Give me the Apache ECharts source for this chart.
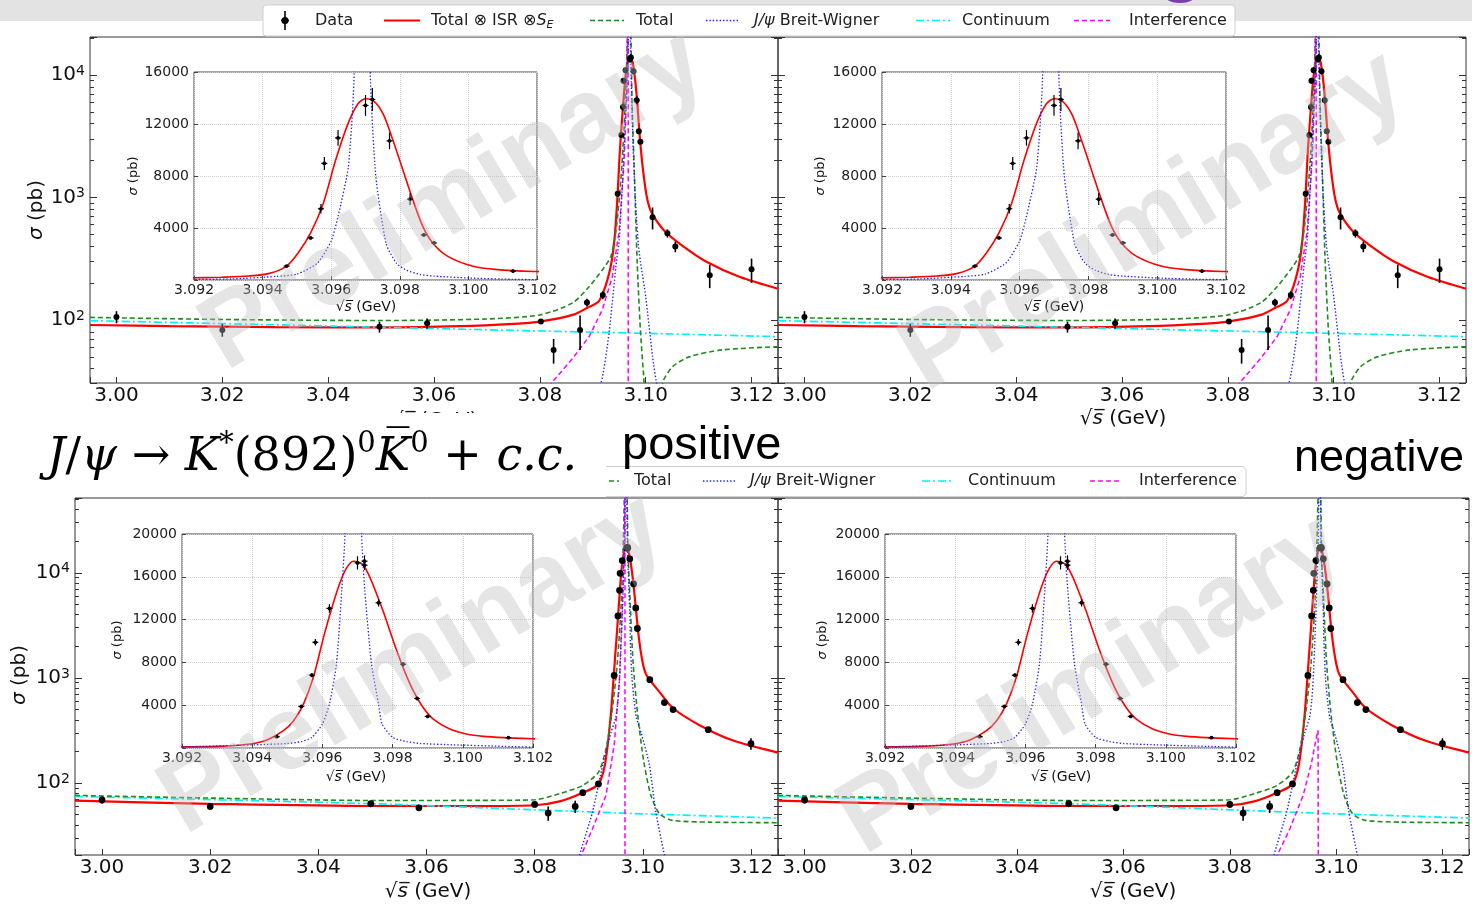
<!DOCTYPE html>
<html><head><meta charset="utf-8">
<script src="https://cdn.jsdelivr.net/npm/echarts@6/dist/echarts.min.js"></script>
<style>html,body{margin:0;padding:0;background:#fff}#c{width:1472px;height:908px}</style>
</head><body><div id="c"></div><script>
// ---------------- DATA ----------------
// upper panels: measured cross sections (pb), errors
const topX   = [3.000, 3.020, 3.0497, 3.0587, 3.0802, 3.0826, 3.0876, 3.0889, 3.0919, 3.0947, 3.0954, 3.0957, 3.0958, 3.0962, 3.0970, 3.0972, 3.0977, 3.0983, 3.0987, 3.0990, 3.1013, 3.1041, 3.1056, 3.1121, 3.1200];
const topY   = [106, 83, 88, 94, 97, 57, 83, 139, 160, 1070, 3236, 5478, 8969, 10931, 13428, 13887, 10702, 6217, 3465, 2854, 688, 510, 397, 232, 259];
const topErr = [12, 10, 9, 9, 4, 13, 26, 10, 12, 60, 100, 360, 500, 600, 800, 890, 640, 450, 120, 110, 140, 40, 40, 50, 58];
// lower panels (K*(892)0 K0bar + c.c.)
const botX   = [3.000, 3.020, 3.0497, 3.0586, 3.0800, 3.0825, 3.0875, 3.0889, 3.0918, 3.0947, 3.0954, 3.0957, 3.0958, 3.0962, 3.0970, 3.0972, 3.0972, 3.0976, 3.0983, 3.0987, 3.0990, 3.1013, 3.1040, 3.1056, 3.1121, 3.1200];
const botY   = [69, 60, 63.6, 58.2, 62.7, 51.8, 60, 81, 98, 1056, 3882, 6802, 9877, 13045, 17300, 17456, 17083, 13573, 7827, 4628, 2951, 963, 583, 500, 322, 237];
const botErr = [5, 4, 4, 4, 4, 8, 8, 5, 5, 60, 120, 180, 300, 400, 620, 550, 450, 350, 200, 100, 80, 40, 25, 20, 15, 30];

// fitted curves, upper panels
const redTopX   = [2.995, 3.010, 3.030, 3.050, 3.065, 3.075, 3.080, 3.0862, 3.0893, 3.0910, 3.0919, 3.0928, 3.0936, 3.0942, 3.0947, 3.09504, 3.0954, 3.09577, 3.09613, 3.09649, 3.09678, 3.0970, 3.09722, 3.09751, 3.0978, 3.09809, 3.09838, 3.09867, 3.09896, 3.09939, 3.10011, 3.10084, 3.1020, 3.1038, 3.1069, 3.1114, 3.1177, 3.1250];
const redTopY   = [91, 89, 87.5, 87, 89, 93, 97, 110, 128, 140, 165, 215, 306, 510, 1070, 2090, 3618, 5911, 9224, 12027, 13555, 13937, 13810, 12790, 10750, 8460, 6166, 4128, 2854, 1835, 1070, 800, 650, 520, 405, 300, 225, 180];
const greenTopX = [2.995, 3.020, 3.050, 3.070, 3.080, 3.0862, 3.0893, 3.0918, 3.0934, 3.0944, 3.0953, 3.0959, 3.0964, 3.0967, 3.0969, 3.0971, 3.0974, 3.0978, 3.0984, 3.0990, 3.0997, 3.1005, 3.1015, 3.1025, 3.1032, 3.1051, 3.1082, 3.1144, 3.1250];
const greenTopY = [105, 101, 99, 102, 110, 138, 187, 256, 329, 543, 1390, 3556, 12440, 60000, 500000, 60000, 6650, 1900, 290, 83, 30.6, 8, 3, 10, 30.6, 41.6, 50, 57, 60.5];
const blueTopX  = [3.0860, 3.0915, 3.0931, 3.0944, 3.0950, 3.0956, 3.0960, 3.0962, 3.0965, 3.09667, 3.0968, 3.0969, 3.0970, 3.09714, 3.0973, 3.0976, 3.0979, 3.0982, 3.0986, 3.0990, 3.1000, 3.1013, 3.1022, 3.1050];
const blueTopY  = [8, 30, 80, 280, 450, 1300, 3000, 4900, 8700, 16000, 80000, 500000, 80000, 16000, 8000, 2800, 1300, 750, 420, 300, 155, 50, 28, 8];
const cyanTopX  = [2.995, 3.040, 3.080, 3.100, 3.125];
const cyanTopY  = [98.8, 89.3, 81.3, 77.8, 73.1];
const magTopX   = [3.0800, 3.0824, 3.0862, 3.0893, 3.0918, 3.0937, 3.0950, 3.0959, 3.0964, 3.0966, 3.0967, 3.0967];
const magTopY   = [22, 31.3, 48.6, 73, 121, 226, 543, 1900, 6650, 25000, 200000, 1];

// fitted curves, lower panels
const redBotX   = [2.995, 3.020, 3.050, 3.070, 3.080, 3.0846, 3.0889, 3.0918, 3.0930, 3.09394, 3.09442, 3.09489, 3.09518, 3.09546, 3.09574, 3.09603, 3.09627, 3.0965, 3.09669, 3.09688, 3.09702, 3.09717, 3.09736, 3.09755, 3.09773, 3.09802, 3.0983, 3.09859, 3.09887, 3.09916, 3.09963, 3.1001, 3.10058, 3.10132, 3.1020, 3.1030, 3.1055, 3.1105, 3.1166, 3.1250];
const redBotY   = [68, 63.5, 60.5, 60.5, 61.5, 67, 81, 98, 150, 373, 745, 1615, 2547, 4100, 6585, 10312, 13107, 15437, 16834, 17456, 17394, 17083, 15903, 14350, 12797, 10001, 7516, 5342, 3789, 2702, 1770, 1305, 1087, 950, 860, 745, 520, 355, 255, 195];
const greenBotX = [2.995, 3.020, 3.050, 3.070, 3.080, 3.0846, 3.0889, 3.0918, 3.0932, 3.0943, 3.0953, 3.0960, 3.0964, 3.0967, 3.0969, 3.0971, 3.0973, 3.0976, 3.0982, 3.0990, 3.1002, 3.1015, 3.1031, 3.1055, 3.1123, 3.1250];
const greenBotY = [76.4, 72, 68.3, 68.5, 69.3, 79.3, 95, 127, 213, 474, 1420, 5000, 20000, 100000, 500000, 60000, 14000, 6140, 1420, 474, 158, 76.4, 51, 44.2, 42.5, 42];
const blueBotX  = [3.0860, 3.0883, 3.0907, 3.0926, 3.0941, 3.0950, 3.0954, 3.0957, 3.0960, 3.0962, 3.0964, 3.09655, 3.09664, 3.0968, 3.09688, 3.0970, 3.09712, 3.09721, 3.0974, 3.0976, 3.0977, 3.0980, 3.0984, 3.0988, 3.0997, 3.1012, 3.1024, 3.1040, 3.1060];
const blueBotY  = [6, 20.5, 53, 150, 300, 420, 600, 994, 2236, 4100, 7827, 14660, 20000, 150000, 800000, 150000, 20000, 14660, 7827, 4100, 2236, 994, 600, 420, 300, 150, 53, 20.5, 6];
const cyanBotX  = [2.995, 3.050, 3.080, 3.100, 3.125];
const cyanBotY  = [74.6, 63.6, 55.7, 51, 46.5];
const magBotLX  = [3.0860, 3.0886, 3.0907, 3.0932, 3.0947, 3.0957, 3.0963, 3.0966, 3.0967, 3.0967];
const magBotLY  = [12, 20.5, 36.8, 76.4, 228, 986, 6140, 26500, 300000, 1];
const magBotRX  = [3.0860, 3.0889, 3.0913, 3.0938, 3.0954, 3.0962, 3.0966, 3.0967, 3.0967];
const magBotRY  = [10, 20.5, 36.8, 76.4, 158, 260, 318, 318, 1];

// legend labels
const legendLabels = ['Data', 'Total ⊗ ISR ⊗S_E', 'Total', 'J/ψ Breit-Wigner', 'Continuum', 'Interference'];

// ---------------- LAYOUT / STYLE ----------------
const FONT = 'DejaVu Sans';
const X_MIN = 2.995, X_MAX = 3.125;
const mainBoxes = [
  {left: 90, top: 37, width: 688, height: 346},
  {left: 778, top: 37, width: 688, height: 346},
  {left: 75, top: 498, width: 703, height: 357},
  {left: 778, top: 498, width: 703, height: 357}
];
const mainYRange = [[30.6, 20400], [30.6, 20400], [20.7, 51400], [20.7, 51400]];
const insetBoxes = [
  {left: 194, top: 72, width: 343, height: 208},
  {left: 882, top: 72, width: 344, height: 208},
  {left: 182, top: 534, width: 351, height: 214},
  {left: 885, top: 534, width: 351, height: 214}
];
const insetYMax = [16000, 16000, 20000, 20000];

const ST = {
  red:   {color: '#ff0000', width: 2.2, type: 'solid'},
  green: {color: '#1f8a1f', width: 1.6, type: [5, 3]},
  blue:  {color: '#2020ff', width: 1.4, type: [1.4, 2]},
  cyan:  {color: '#00f0ff', width: 1.7, type: [8, 3, 2, 3]},
  mag:   {color: '#ff00ff', width: 1.5, type: [5, 3]}
};

const pairs = (xs, ys) => xs.map((x, i) => [x, ys[i]]);
const triples = (xs, ys, es) => xs.map((x, i) => [x, ys[i], es[i]]);

const panelCurves = [
  {red: [redTopX, redTopY], green: [greenTopX, greenTopY], blue: [blueTopX, blueTopY], cyan: [cyanTopX, cyanTopY], mag: [magTopX, magTopY], pts: triples(topX, topY, topErr), r: 3},
  {red: [redTopX, redTopY], green: [greenTopX, greenTopY], blue: [blueTopX, blueTopY], cyan: [cyanTopX, cyanTopY], mag: [magTopX, magTopY], pts: triples(topX, topY, topErr), r: 3},
  {red: [redBotX, redBotY], green: [greenBotX, greenBotY], blue: [blueBotX, blueBotY], cyan: [cyanBotX, cyanBotY], mag: [magBotLX, magBotLY], pts: triples(botX, botY, botErr), r: 3.4},
  {red: [redBotX, redBotY], green: [greenBotX, greenBotY], blue: [blueBotX, blueBotY], cyan: [cyanBotX, cyanBotY], mag: [magBotRX, magBotRY], pts: triples(botX, botY, botErr), r: 3.4}
];

function errRender(r, cap, lw) {
  return function (params, api) {
    const x = api.value(0), y = api.value(1), e = api.value(2);
    const p = api.coord([x, y]);
    const t = api.coord([x, y + e]);
    const b = api.coord([x, Math.max(y - e, 1e-6)]);
    const ch = [{type: 'line', shape: {x1: p[0], y1: t[1], x2: p[0], y2: b[1]}, style: {stroke: '#000', lineWidth: lw}}];
    if (cap) ch.push({type: 'line', shape: {x1: p[0] - cap, y1: p[1], x2: p[0] + cap, y2: p[1]}, style: {stroke: '#000', lineWidth: lw}});
    ch.push({type: 'circle', shape: {cx: p[0], cy: p[1], r: r}, style: {fill: '#000'}});
    return {type: 'group', children: ch};
  };
}

const fmtMainX = v => { const k = Math.round(v / 0.02); return Math.abs(v - k * 0.02) < 1e-7 ? (k * 0.02).toFixed(2) : ''; };
const fmtLog = v => { const l = Math.log10(v); const e = Math.round(l); return Math.abs(l - e) < 1e-6 ? '{b|10}{s|' + e + '}' : ''; };

const grids = [], xAxes = [], yAxes = [], series = [];
mainBoxes.forEach((b, i) => {
  grids.push(Object.assign({show: true, borderColor: '#333', borderWidth: 1, backgroundColor: 'rgba(0,0,0,0)', z: 0}, b));
  xAxes.push({type: 'value', gridIndex: i, min: X_MIN, max: X_MAX, splitNumber: 6,
    axisLine: {show: false}, axisTick: {show: true, inside: true, length: 6, lineStyle: {color: '#333'}},
    axisLabel: {formatter: fmtMainX, fontSize: 20, color: '#111', fontFamily: FONT, margin: 3},
    splitLine: {show: false}});
});
insetBoxes.forEach((b, j) => {
  grids.push(Object.assign({show: true, borderColor: '#444', borderWidth: 1, backgroundColor: '#fff', z: 10}, b));
  xAxes.push({type: 'value', gridIndex: 4 + j, min: 3.092, max: 3.102, interval: 0.002, z: 11,
    axisLine: {show: false}, axisTick: {show: true, inside: true, length: 4, lineStyle: {color: '#444'}},
    axisLabel: {formatter: v => v.toFixed(3), fontSize: 14, color: '#222', fontFamily: FONT, margin: 3},
    splitLine: {show: true, lineStyle: {color: '#cfcfcf', type: 'dotted', width: 1}}});
});
const logRich = {b: {fontSize: 20, fontFamily: FONT, color: '#111', lineHeight: 22}, s: {fontSize: 14, fontFamily: FONT, color: '#111', lineHeight: 14, verticalAlign: 'top'}};
mainBoxes.forEach((b, i) => {
  ['left', 'right'].forEach(pos => {
    yAxes.push({type: 'log', logBase: 10, gridIndex: i, position: pos, min: mainYRange[i][0], max: mainYRange[i][1],
      axisLine: {show: false},
      axisTick: {show: true, inside: true, length: 7, lineStyle: {color: '#333'}},
      minorTick: {show: true, splitNumber: 9, length: 4, lineStyle: {color: '#333'}},
      axisLabel: {show: pos === 'left' && i % 2 === 0, formatter: fmtLog, rich: logRich, margin: 5},
      splitLine: {show: false}, minorSplitLine: {show: false}});
  });
});
insetBoxes.forEach((b, j) => {
  yAxes.push({type: 'value', gridIndex: 4 + j, min: 0, max: insetYMax[j], interval: 4000, z: 11,
    axisLine: {show: false}, axisTick: {show: true, inside: true, length: 4, lineStyle: {color: '#444'}},
    axisLabel: {formatter: v => v === 0 ? '' : String(v), fontSize: 14, color: '#222', fontFamily: FONT, margin: 5},
    splitLine: {show: true, lineStyle: {color: '#cfcfcf', type: 'dotted', width: 1}}});
});

function line(d, st, xi, yi, z, smooth, w) {
  return {type: 'line', xAxisIndex: xi, yAxisIndex: yi, data: pairs(d[0], d[1]), showSymbol: false, symbol: 'none',
    smooth: smooth, silent: true, z: z,
    lineStyle: {color: st.color, width: w || st.width, type: st.type}};
}
panelCurves.forEach((c, i) => {
  const yi = 2 * i;
  series.push(line(c.red, ST.red, i, yi, 2, 0.3));
  series.push(line(c.cyan, ST.cyan, i, yi, 3, 0.3));
  series.push(line(c.green, ST.green, i, yi, 3, 0.25));
  series.push(line(c.mag, ST.mag, i, yi, 3, false));
  series.push(line(c.blue, ST.blue, i, yi, 3, 0.2));
  series.push({type: 'custom', xAxisIndex: i, yAxisIndex: yi, data: c.pts, encode: {x: 0, y: 1}, clip: true, z: 5,
    renderItem: errRender(c.r, 0, 1.6)});
  // inset
  const xi = 4 + i, yj = 8 + i;
  series.push(line(c.red, ST.red, xi, yj, 12, 0.3, 1.6));
  series.push(line(c.blue, ST.blue, xi, yj, 13, 0.2, 1.3));
  series.push({type: 'custom', xAxisIndex: xi, yAxisIndex: yj, data: c.pts, encode: {x: 0, y: 1}, clip: true, z: 14,
    renderItem: errRender(1.9, 3, 1.2)});
});

// ---------------- graphics: legends, titles, axis names, watermark ----------------
const G = [];
G.push({type: 'rect', shape: {x: 0, y: 0, width: 1472, height: 21}, style: {fill: '#e3e3e3'}, z: 1});
G.push({type: 'ellipse', shape: {cx: 1180, cy: -5, rx: 16, ry: 8}, style: {fill: '#7a3fae'}, z: 2});

function lg(x1, x2, y, st) { return {type: 'line', shape: {x1: x1, y1: y, x2: x2, y2: y}, style: {stroke: st.color, lineWidth: st.width, lineDash: st.type === 'solid' ? null : st.type}, z: 72}; }
function txt(x, y, t, extra) {
  return Object.assign({type: 'text', x: x, y: y, z: 72, style: Object.assign({text: t, fontSize: 16, fontFamily: FONT, fill: '#222', align: 'left', verticalAlign: 'middle'}, extra || {})});
}
const richLeg = {
  i: {fontStyle: 'italic', fontSize: 16, fontFamily: FONT, fill: '#222'},
  sub: {fontStyle: 'italic', fontSize: 11, fontFamily: FONT, fill: '#222', padding: [9, 0, 0, 0]}
};
// legend 1
G.push({type: 'rect', shape: {x: 263, y: 5, width: 972, height: 31, r: 3}, style: {fill: '#fff', stroke: '#cfcfcf', lineWidth: 1}, z: 70});
const ly = 20.5;
G.push({type: 'line', shape: {x1: 285, y1: 11, x2: 285, y2: 30}, style: {stroke: '#000', lineWidth: 1.6}, z: 72});
G.push({type: 'line', shape: {x1: 281, y1: ly, x2: 289, y2: ly}, style: {stroke: '#000', lineWidth: 1.4}, z: 72});
G.push({type: 'circle', shape: {cx: 285, cy: ly, r: 3.6}, style: {fill: '#000'}, z: 72});
G.push(txt(315, ly, legendLabels[0]));
G.push(lg(384, 420, ly, ST.red));
G.push(txt(431, ly, '{n|Total ⊗ ISR ⊗}{i|S}{sub|E}', {rich: Object.assign({n: {fontSize: 16, fontFamily: FONT, fill: '#222'}}, richLeg)}));
G.push(lg(590, 624, ly, ST.green));
G.push(txt(636, ly, legendLabels[2]));
G.push(lg(706, 739, ly, ST.blue));
G.push(txt(754, ly, '{i|J/ψ} Breit-Wigner', {rich: richLeg}));
G.push(lg(916, 950, ly, ST.cyan));
G.push(txt(962, ly, legendLabels[4]));
G.push(lg(1074, 1110, ly, ST.mag));
G.push(txt(1129, ly, legendLabels[5]));
// legend 2 (left part cut)
const l2 = 481;
G.push({type: 'rect', shape: {x: 606, y: 466, width: 640, height: 31}, style: {fill: '#fff'}, z: 69});
G.push({type: 'polyline', shape: {points: [[606, 466.5], [1243, 466.5], [1246, 469], [1246, 494], [1243, 496.5], [606, 496.5]]}, style: {fill: null, stroke: '#d0d0d0', lineWidth: 1}, z: 70});
G.push(lg(609, 619, l2, ST.green));
G.push(txt(634, l2, legendLabels[2]));
G.push(lg(703, 736, l2, ST.blue));
G.push(txt(750, l2, '{i|J/ψ} Breit-Wigner', {rich: richLeg}));
G.push(lg(922, 954, l2, ST.cyan));
G.push(txt(968, l2, legendLabels[4]));
G.push(lg(1090, 1122, l2, ST.mag));
G.push(txt(1139, l2, legendLabels[5]));

// axis names
function sigma(x, y, fs) {
  return {type: 'text', x: x, y: y, rotation: Math.PI / 2, z: 40,
    style: {text: '{i|σ} (pb)', fontSize: fs, fontFamily: FONT, fill: '#111', align: 'center', verticalAlign: 'middle',
      rich: {i: {fontStyle: 'italic', fontSize: fs, fontFamily: FONT, fill: '#111'}}}};
}
function sqrts(x, y, fs, z) {
  return {type: 'text', x: x, y: y, z: z || 40,
    style: {text: '√{i|s\u0305} (GeV)', fontSize: fs, fontFamily: FONT, fill: '#111', align: 'center', verticalAlign: 'middle',
      rich: {i: {fontStyle: 'italic', fontSize: fs, fontFamily: FONT, fill: '#111'}}}};
}
G.push(sigma(37, 210, 20), sigma(20, 675, 20));
G.push(sigma(134, 176, 13), sigma(821, 176, 13), sigma(118, 640, 13), sigma(823, 640, 13));
G.push(sqrts(366, 307, 14), sqrts(1054, 307, 14), sqrts(356, 777, 14), sqrts(1061, 777, 14));
G.push(sqrts(434, 421, 20, 30), sqrts(1123, 419, 20), sqrts(428, 892, 20), sqrts(1133, 892, 20));
// white patch hiding the lower half of the top-left x label
G.push({type: 'rect', shape: {x: 0, y: 413, width: 604, height: 84}, style: {fill: '#fff'}, z: 35});

// watermarks
[[454, 201], [1154, 222], [413, 665], [1092, 685]].forEach(p => {
  G.push({type: 'text', x: p[0], y: p[1], rotation: 31 * Math.PI / 180, z: 50, silent: true,
    style: {text: 'Preliminary', fontSize: 104, fontWeight: 'bold', fontFamily: 'Liberation Sans', fill: 'rgba(190,190,190,0.40)', align: 'center', verticalAlign: 'middle'}});
});

// title and labels
G.push({type: 'text', x: 47, y: 458, z: 72, style: {
  text: '{i|J}{n|/}{i|ψ}{n| → }{i|K}{sup|*}{n|(892)}{sup|0}{i|K\u0305}{sup|0}{n| + }{i|c.c.}',
  align: 'left', verticalAlign: 'middle',
  rich: {
    n: {fontFamily: 'DejaVu Serif', fontSize: 46, fill: '#000'},
    i: {fontFamily: 'DejaVu Serif', fontStyle: 'italic', fontSize: 46, fill: '#000'},
    sup: {fontFamily: 'DejaVu Serif', fontSize: 29, fill: '#000', padding: [0, 0, 28, 0]}
  }}});
G.push({type: 'text', x: 622, y: 446, z: 72, style: {text: 'positive', fontSize: 47, fontFamily: 'Liberation Sans', fill: '#000', align: 'left', verticalAlign: 'middle'}});
G.push({type: 'text', x: 1294, y: 459, z: 72, style: {text: 'negative', fontSize: 45, fontFamily: 'Liberation Sans', fill: '#000', align: 'left', verticalAlign: 'middle'}});

const chart = echarts.init(document.getElementById('c'), null, {renderer: 'canvas', width: 1472, height: 908});
chart.setOption({
  animation: false,
  backgroundColor: '#fff',
  textStyle: {fontFamily: FONT},
  grid: grids, xAxis: xAxes, yAxis: yAxes, series: series,
  graphic: {elements: G}
});
</script></body></html>
